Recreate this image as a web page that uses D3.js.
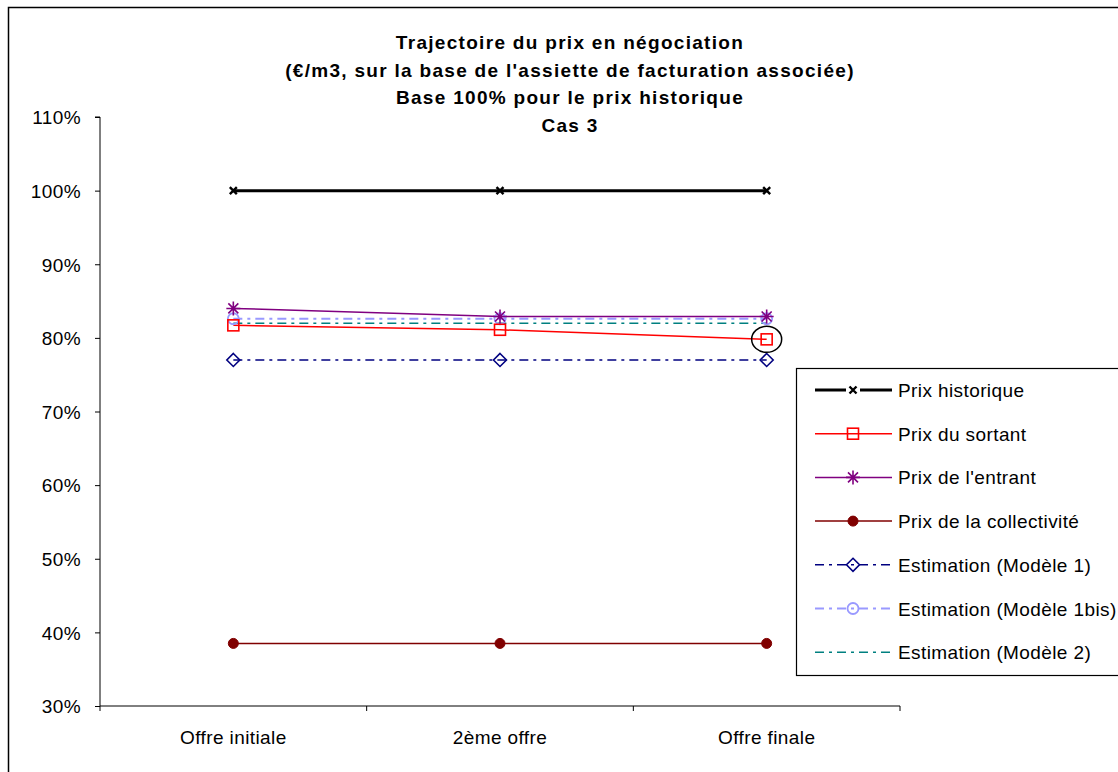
<!DOCTYPE html>
<html><head><meta charset="utf-8">
<script src="https://cdn.jsdelivr.net/npm/d3@7"></script>
<style>body{margin:0;background:#fff}svg{display:block;font-family:"Liberation Sans",Arial,sans-serif}</style>
</head><body>
<script>
const categories = ["Offre initiale", "2ème offre", "Offre finale"];
const titleLines = ["Trajectoire du prix en négociation", "(€/m3, sur la base de l'assiette de facturation associée)", "Base 100% pour le prix historique", "Cas 3"];
const yTicks = [0.3,0.4,0.5,0.6,0.7,0.8,0.9,1.0,1.1];
const prixHistorique = [1.00, 1.00, 1.00];
const prixSortant = [0.817, 0.811, 0.798];
const prixEntrant = [0.840, 0.829, 0.829];
const prixCollectivite = [0.385, 0.385, 0.385];
const modele1 = [0.770, 0.770, 0.770];
const modele1bis = [0.826, 0.826, 0.826];
const modele2 = [0.820, 0.820, 0.820];
const seriesNames = ["Prix historique","Prix du sortant","Prix de l'entrant","Prix de la collectivité","Estimation (Modèle 1)","Estimation (Modèle 1bis)","Estimation (Modèle 2)"];

const series = [
  {name:seriesNames[0], values:prixHistorique, color:"#000000", width:3, dash:null, marker:"x"},
  {name:seriesNames[1], values:prixSortant, color:"#FF0000", width:1.5, dash:null, marker:"square"},
  {name:seriesNames[2], values:prixEntrant, color:"#800080", width:1.5, dash:null, marker:"star"},
  {name:seriesNames[3], values:prixCollectivite, color:"#800000", width:1.5, dash:null, marker:"dot"},
  {name:seriesNames[4], values:modele1, color:"#000080", width:1.5, dash:"9,5,3,5", marker:"diamond"},
  {name:seriesNames[5], values:modele1bis, color:"#9999FF", width:2, dash:"9,5,3,5", marker:"circle"},
  {name:seriesNames[6], values:modele2, color:"#008080", width:1.5, dash:"9,5,3,5", marker:null}
];

const W=1118,H=772;
const FS=19, LS="0.4px";
const svg=d3.select("body").append("svg").attr("width",W).attr("height",H);
svg.append("rect").attr("x",8.5).attr("y",7.5).attr("width",W).attr("height",H).attr("fill","#fff").attr("stroke","#000").attr("stroke-width",1.5);

const L=100,R=900,T=117,B=706;
const x=d3.scaleBand().domain(categories).range([L,R]);
const y=d3.scaleLinear().domain([0.3,1.1]).range([B,T]);

// title
titleLines.forEach((t,i)=>svg.append("text").attr("x",570).attr("y",49+i*27.5).attr("text-anchor","middle")
  .attr("font-size",19).attr("font-weight","bold").attr("letter-spacing","1.3px").attr("fill","#000").text(t));

// axes
const yAxis=d3.axisLeft(y).tickValues(yTicks).tickFormat(d3.format(".0%")).tickSize(5).tickPadding(14);
const gy=svg.append("g").attr("transform",`translate(${L},0)`).call(yAxis);
gy.selectAll("text").attr("font-size",FS).attr("letter-spacing",LS).attr("font-family","Liberation Sans, Arial, sans-serif").attr("fill","#000").attr("dy","0.36em");
gy.selectAll("line,path").attr("stroke","#000");
gy.select(".domain").attr("d",`M-5,${T}H0V${B}`);

const gx=svg.append("g").attr("transform",`translate(0,${B})`);
gx.append("line").attr("x1",L).attr("x2",R).attr("stroke","#000");
const edges=[L, ...categories.map(c=>x(c)+x.bandwidth())];
edges.forEach(e=>gx.append("line").attr("x1",e).attr("x2",e).attr("y1",0).attr("y2",5).attr("stroke","#000"));
categories.forEach(c=>gx.append("text").attr("x",x(c)+x.bandwidth()/2).attr("y",38).attr("text-anchor","middle")
  .attr("font-size",FS).attr("letter-spacing",LS).attr("fill","#000").text(c));

const cx=c=>x(c)+x.bandwidth()/2;
function drawMarker(g,type,px,py,color){
  if(type==="x"){
    g.append("path").attr("d",`M${px-3.5},${py-3.5}L${px+3.5},${py+3.5}M${px-3.5},${py+3.5}L${px+3.5},${py-3.5}`).attr("stroke",color).attr("stroke-width",2.4).attr("fill","none");
  } else if(type==="square"){
    g.append("rect").attr("x",px-5.5).attr("y",py-5.5).attr("width",11).attr("height",11).attr("fill","none").attr("stroke",color).attr("stroke-width",1.6);
  } else if(type==="star"){
    g.append("path").attr("d",`M${px-7},${py}L${px+7},${py}M${px},${py-7}L${px},${py+7}M${px-5},${py-5}L${px+5},${py+5}M${px-5},${py+5}L${px+5},${py-5}`).attr("stroke",color).attr("stroke-width",1.6).attr("fill","none");
  } else if(type==="dot"){
    g.append("circle").attr("cx",px).attr("cy",py).attr("r",5).attr("fill",color).attr("stroke",color);
  } else if(type==="diamond"){
    g.append("path").attr("d",`M${px},${py-6.5}L${px+6.5},${py}L${px},${py+6.5}L${px-6.5},${py}Z`).attr("fill","none").attr("stroke",color).attr("stroke-width",1.6);
  } else if(type==="circle"){
    g.append("circle").attr("cx",px).attr("cy",py).attr("r",5.5).attr("fill","none").attr("stroke",color).attr("stroke-width",1.8);
  }
}

const line=d3.line().x((d,i)=>cx(categories[i])).y(d=>y(d));
const drawOrder=[6,5,4,3,1,2,0];
drawOrder.forEach(k=>{
  const s=series[k];
  svg.append("path").datum(s.values).attr("d",line).attr("fill","none").attr("stroke",s.color).attr("stroke-width",s.width).attr("stroke-dasharray",s.dash);
});
drawOrder.forEach(k=>{
  const s=series[k];
  const g=svg.append("g");
  if(s.marker) s.values.forEach((v,i)=>drawMarker(g,s.marker,cx(categories[i]),y(v),s.color));
});

// annotation circle
svg.append("ellipse").attr("cx",cx(categories[2])).attr("cy",y(prixSortant[2])).attr("rx",15).attr("ry",13).attr("fill","none").attr("stroke","#000").attr("stroke-width",1.5);

// legend
const lg=svg.append("g");
lg.append("rect").attr("x",796.5).attr("y",368.5).attr("width",330).attr("height",307).attr("fill","#fff").attr("stroke","#000").attr("stroke-width",1.2);
series.forEach((s,i)=>{
  const ly=390+i*43.7;
  lg.append("line").attr("x1",815).attr("x2",892).attr("y1",ly).attr("y2",ly).attr("stroke",s.color).attr("stroke-width",s.width).attr("stroke-dasharray",s.dash);
  if(s.marker==="x") lg.append("rect").attr("x",846).attr("y",ly-4).attr("width",14).attr("height",8).attr("fill","#fff");
  if(s.marker) drawMarker(lg,s.marker,853,ly,s.color);
  lg.append("text").attr("x",898).attr("y",ly+7).attr("font-size",FS).attr("letter-spacing",LS).attr("fill","#000").text(s.name);
});
</script>
</body></html>
